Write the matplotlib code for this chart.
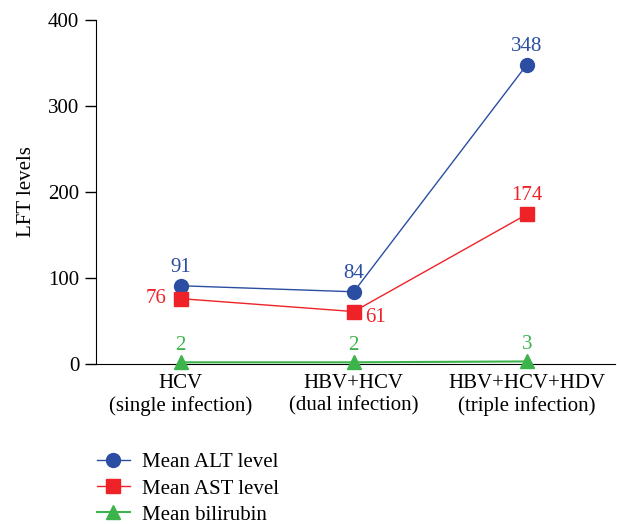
import numpy as np
import matplotlib.pyplot as plt

plt.rcParams['font.family'] = ['Liberation Serif', 'DejaVu Serif']

groups = ['HCV\n(single infection)', 'HBV+HCV\n(dual infection)', 'HBV+HCV+HDV\n(triple infection)']
alt = [91, 84, 348]
ast = [76, 61, 174]
bili = [2, 2, 3]

blue = '#2b4ea2'
red = '#ee2227'
green = '#3cb44b'

fig = plt.figure(figsize=(6.17, 5.24), dpi=100)
ax = fig.add_axes([0.1556, 0.3053, 0.8412, 0.6565])
x = np.arange(len(groups))

ax.plot(x, alt, '-o', color=blue, lw=1, ms=10, label='Mean ALT level', zorder=3)
ax.plot(x, ast, '-s', color=red, lw=1, ms=10, label='Mean AST level', zorder=3)
ax.plot(x, bili, '-^', color=green, lw=1.5, ms=10, label='Mean bilirubin', zorder=3, clip_on=False)

fs = 15
for i, v in enumerate(alt):
    ax.annotate(str(v), (i, v), xytext=(0, 6), textcoords='offset points',
                ha='center', va='bottom', color=blue, fontsize=fs)
ax.annotate(str(ast[0]), (0, ast[0]), xytext=(-10, 0), textcoords='offset points',
            ha='right', va='center', color=red, fontsize=fs)
ax.annotate(str(ast[1]), (1, ast[1]), xytext=(8, -4), textcoords='offset points',
            ha='left', va='center', color=red, fontsize=fs)
ax.annotate(str(ast[2]), (2, ast[2]), xytext=(0, 7), textcoords='offset points',
            ha='center', va='bottom', color=red, fontsize=fs)
for i, v in enumerate(bili):
    ax.annotate(str(v), (i, v), xytext=(0, 5), textcoords='offset points',
                ha='center', va='bottom', color=green, fontsize=fs)

ax.set_xlim(-0.49, 2.51)
ax.set_ylim(0, 400)
ax.set_yticks([0, 100, 200, 300, 400])
ax.set_xticks(x)
ax.set_xticklabels(groups, fontsize=fs, linespacing=1.25)
ax.tick_params(axis='x', length=0, pad=7)
ax.tick_params(axis='y', length=8, width=1, labelsize=fs, pad=4)
ax.set_ylabel('LFT levels', fontsize=fs, labelpad=9)
ax.spines['top'].set_visible(False)
ax.spines['right'].set_visible(False)

handles, labels = ax.get_legend_handles_labels()
fig.legend(handles, labels, loc='upper left', bbox_to_anchor=(0.143, 0.152),
           frameon=False, fontsize=fs, handlelength=1.6, labelspacing=0.32,
           borderaxespad=0, handletextpad=0.6)

fig.savefig('out.png', dpi=100)
